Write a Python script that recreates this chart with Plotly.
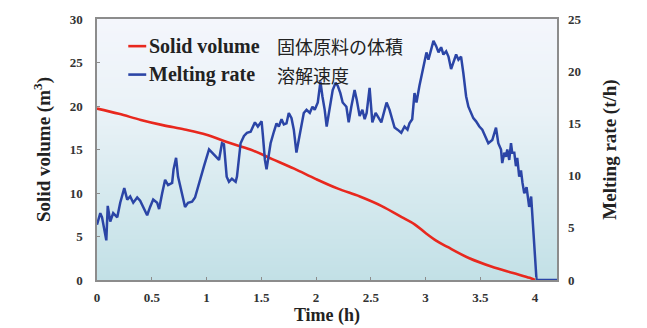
import plotly.graph_objects as go

# Solid volume of the charge (m^3), left axis
vol_time = [0.0, 0.2, 0.4, 0.6, 0.8, 1.0, 1.2, 1.4, 1.6, 1.8, 2.0, 2.2, 2.4, 2.6,
            2.8, 2.9, 3.0, 3.1, 3.2, 3.4, 3.6, 3.8, 3.95, 4.0]
solid_volume = [19.7, 19.1, 18.4, 17.8, 17.3, 16.7, 15.8, 15.0, 13.9, 12.8, 11.6, 10.5, 9.6, 8.5,
                7.1, 6.4, 5.4, 4.5, 3.8, 2.5, 1.55, 0.8, 0.25, 0.0]

# Melting rate (t/h), right axis
rate_time = [0.000, 0.030, 0.046, 0.066, 0.085, 0.098, 0.121, 0.148, 0.185, 0.212, 0.249, 0.276,
             0.303, 0.331, 0.367, 0.394, 0.421, 0.458, 0.485, 0.513, 0.549, 0.567, 0.595, 0.622,
             0.649, 0.686, 0.699, 0.722, 0.740, 0.777, 0.804, 0.831, 0.868, 0.895, 0.923, 0.950,
             0.977, 1.023, 1.050, 1.084, 1.114, 1.141, 1.159, 1.184, 1.205, 1.232, 1.266, 1.278,
             1.311, 1.342, 1.369, 1.403, 1.442, 1.469, 1.503, 1.515, 1.533, 1.548, 1.560, 1.585,
             1.615, 1.639, 1.660, 1.685, 1.706, 1.730, 1.751, 1.776, 1.797, 1.821, 1.842, 1.867,
             1.888, 1.913, 1.943, 1.967, 1.988, 2.016, 2.040, 2.058, 2.079, 2.097, 2.125, 2.152,
             2.179, 2.198, 2.222, 2.243, 2.277, 2.298, 2.322, 2.352, 2.371, 2.398, 2.423, 2.444,
             2.462, 2.489, 2.514, 2.544, 2.562, 2.596, 2.626, 2.644, 2.671, 2.696, 2.717, 2.744,
             2.778, 2.808, 2.835, 2.853, 2.878, 2.899, 2.917, 2.944, 2.969, 2.990, 3.008, 3.026,
             3.051, 3.072, 3.097, 3.118, 3.142, 3.163, 3.188, 3.209, 3.233, 3.254, 3.279, 3.300,
             3.324, 3.345, 3.370, 3.391, 3.415, 3.436, 3.461, 3.491, 3.518, 3.546, 3.573, 3.609,
             3.643, 3.664, 3.689, 3.700, 3.719, 3.734, 3.746, 3.764, 3.780, 3.791, 3.810, 3.825,
             3.837, 3.855, 3.871, 3.885, 3.901, 3.922, 3.946, 3.964, 3.974, 3.992, 4.007, 4.013,
             4.2]
melting_rate = [5.3, 6.4, 6.0, 4.8, 3.8, 7.1, 5.6, 6.4, 6.0, 7.4, 8.8, 7.7,
                8.0, 7.4, 7.9, 7.6, 7.0, 6.2, 7.0, 7.7, 7.4, 6.8, 8.3, 9.6,
                9.1, 9.3, 10.6, 11.7, 9.9, 8.3, 7.0, 7.4, 7.5, 7.9, 9.0, 9.9,
                10.9, 12.5, 12.2, 11.8, 11.5, 13.1, 13.0, 9.9, 9.4, 9.7, 9.4, 9.9,
                13.1, 13.8, 14.1, 14.2, 15.1, 14.7, 15.2, 13.8, 11.5, 10.6, 11.5, 13.1,
                14.2, 15.0, 14.7, 15.4, 14.9, 15.0, 16.0, 15.5, 14.4, 12.2, 13.4, 14.7,
                16.0, 16.3, 16.0, 16.6, 16.3, 17.0, 19.0, 17.6, 16.3, 14.7, 16.6, 18.2,
                18.9, 18.6, 17.9, 17.0, 16.6, 15.1, 16.6, 18.2, 17.3, 15.7, 16.3, 15.4,
                16.0, 18.4, 15.1, 16.0, 15.7, 15.1, 16.3, 17.0, 16.3, 15.5, 14.6, 14.4,
                14.1, 14.7, 14.4, 15.0, 15.4, 17.9, 17.0, 18.6, 19.9, 21.1, 21.8, 21.1,
                22.1, 22.9, 22.4, 21.8, 22.3, 21.6, 21.9, 21.4, 20.2, 20.8, 21.6, 21.1,
                21.4, 19.8, 17.6, 16.6, 16.0, 15.5, 15.2, 14.7, 14.4, 13.8, 13.1, 13.4,
                14.6, 13.1, 12.5, 11.2, 12.2, 11.8, 12.5, 11.5, 13.1, 12.2, 12.2, 10.9,
                11.7, 9.9, 10.5, 9.3, 8.3, 8.9, 7.0, 8.0, 6.1, 2.9, 0.3, 0.0,
                0.0]

x_ticks = [0, 0.5, 1, 1.5, 2, 2.5, 3, 3.5, 4]
x_tick_labels = ["0", "0.5", "1", "1.5", "2", "2.5", "3", "3.5", "4"]

SERIF = "Liberation Serif, Times New Roman, serif"
CJK = "Noto Sans CJK JP, sans-serif"
FRAME = "#8c8c8c"
RED = "#e8281e"
BLUE = "#2b45a6"

fig = go.Figure()

# soft background wash: pale at the top, light teal at the bottom
fig.add_trace(go.Heatmap(
    x=[0, 4.2], y=[0, 30], z=[[0, 0], [1, 1]],
    zsmooth="best", showscale=False, hoverinfo="skip",
    colorscale=[[0.0, "#c2e0e6"], [0.35, "#d7eaef"], [0.65, "#eaf2f7"], [1.0, "#f4f6fc"]],
))

fig.add_trace(go.Scatter(
    x=rate_time, y=melting_rate, yaxis="y2", mode="lines",
    line=dict(color=BLUE, width=2.5), name="Melting rate", showlegend=False,
))
fig.add_trace(go.Scatter(
    x=vol_time, y=solid_volume, mode="lines",
    line=dict(color=RED, width=2.6, shape="spline"), name="Solid volume", showlegend=False,
))

tick_font = dict(family=SERIF, size=13, color="#333333", weight="bold")
title_font = dict(family=SERIF, size=19, color="#222222", weight="bold")

fig.update_layout(
    width=647, height=328,
    margin=dict(l=97, r=90, t=19, b=48),
    paper_bgcolor="white", plot_bgcolor="white",
    xaxis=dict(
        range=[0, 4.2], tickvals=x_ticks, ticktext=x_tick_labels,
        ticks="inside", ticklen=3, tickcolor=FRAME, tickfont=tick_font,
        ticklabelstandoff=5, automargin=False,
        showline=True, mirror=True, linecolor=FRAME, linewidth=1.5,
        showgrid=False, zeroline=False,
        title=dict(text="Time (h)", font=dict(family=SERIF, size=18, color="#222222", weight="bold"),
                   standoff=4),
    ),
    yaxis=dict(
        range=[0, 30], dtick=5, ticks="inside", ticklen=3, tickcolor=FRAME,
        tickfont=tick_font, ticklabelstandoff=10, automargin=False,
        showline=True, mirror=True, linecolor=FRAME, linewidth=1.5,
        showgrid=False, zeroline=False,
        title=dict(text="Solid volume (m<sup>3</sup>)", font=title_font, standoff=14),
    ),
    yaxis2=dict(
        range=[0, 25], dtick=5, overlaying="y", side="right",
        ticks="", tickfont=tick_font, ticklabelstandoff=10, automargin=False,
        showline=False, showgrid=False, zeroline=False,
        title=dict(text="Melting rate (t/h)", font=title_font, standoff=22),
    ),
)

# legend: sample lines, English labels and Japanese labels
legend_rows = [
    ("Solid volume", "固体原料の体積", RED, 0.896),
    ("Melting rate", "溶解速度", BLUE, 0.787),
]
for label, label_ja, color, yy in legend_rows:
    fig.add_shape(type="line", xref="paper", yref="paper",
                  x0=0.068, x1=0.107, y0=yy, y1=yy,
                  line=dict(color=color, width=2.6))
    fig.add_annotation(xref="paper", yref="paper", x=0.108, y=yy,
                       xanchor="left", yanchor="middle", showarrow=False,
                       text=label, font=dict(family=SERIF, size=20, color="#222222", weight="bold"))
    fig.add_annotation(xref="paper", yref="paper", x=0.386, y=yy,
                       xanchor="left", yanchor="middle", showarrow=False,
                       text=label_ja, font=dict(family=CJK, size=18, color="#222222"))

fig.write_html("out.html")
